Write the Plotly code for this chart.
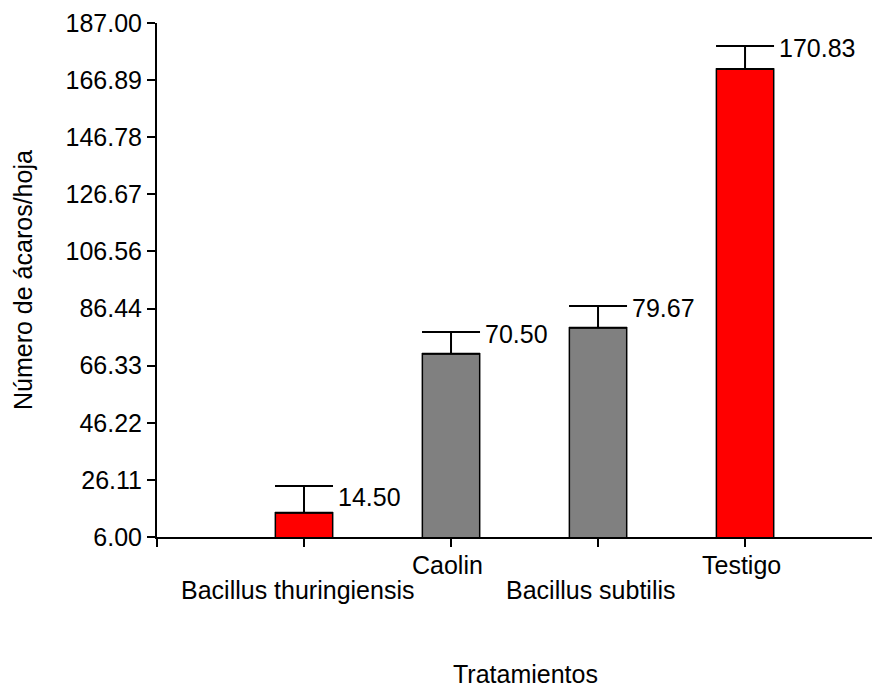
import plotly.graph_objects as go

categories = ["Bacillus thuringiensis", "Caolin", "Bacillus subtilis", "Testigo"]
means = [14.50, 70.50, 79.67, 170.83]
errors = [9.5, 7.7, 7.7, 8.1]
bar_colors = ["#FF0000", "#808080", "#808080", "#FF0000"]
ytick_vals = [6.00, 26.11, 46.22, 66.33, 86.44, 106.56, 126.67, 146.78, 166.89, 187.00]
ytick_text = ["6.00", "26.11", "46.22", "66.33", "86.44", "106.56", "126.67", "146.78", "166.89", "187.00"]

FONT = "Liberation Sans, Arial, sans-serif"
FS = 25

xpos = list(range(len(categories)))

fig = go.Figure()
fig.add_trace(go.Bar(
    x=xpos, y=means, width=0.39,
    marker=dict(color=bar_colors, line=dict(color="black", width=1.5)),
    error_y=dict(type="data", array=errors, arrayminus=[0]*len(errors), symmetric=False,
                 color="black", thickness=2, width=29),
    hoverinfo="skip", showlegend=False,
))

annotations = []
# value labels
for i, (m, e) in enumerate(zip(means, errors)):
    annotations.append(dict(
        x=xpos[i] + 0.195, y=m + e, xref="x", yref="y", text=f"{m:.2f}",
        showarrow=False, xanchor="left", yanchor="middle", xshift=3,
        yshift=(-11 if i == 0 else -2), font=dict(family=FONT, size=FS, color="black")))
# category labels, staggered
for i, c in enumerate(categories):
    annotations.append(dict(
        x=xpos[i], y=0, xref="x", yref="paper", text=c, showarrow=False,
        xanchor="center", yanchor="middle", yshift=(-53 if i % 2 == 0 else -28),
        xshift=(-7 if i % 2 == 0 else -4),
        font=dict(family=FONT, size=FS, color="black")))
annotations.append(dict(
    x=0.5, y=0, xref="paper", yref="paper", text="Tratamientos", showarrow=False,
    xanchor="center", yanchor="middle", yshift=-137, xshift=7,
    font=dict(family=FONT, size=FS, color="black")))
annotations.append(dict(
    x=0, y=0.5, xref="paper", yref="paper", text="Número de ácaros/hoja", showarrow=False,
    xanchor="center", yanchor="middle", xshift=-134, textangle=-90,
    font=dict(family=FONT, size=FS, color="black")))

# page body has an 8px margin; compensate so the plot sits where the reference has it
fig.update_layout(
    width=872, height=682,
    margin=dict(l=149, r=0, t=15, b=153, autoexpand=False),
    paper_bgcolor="white", plot_bgcolor="white",
    font=dict(family=FONT, size=FS, color="black"),
    annotations=annotations,
    xaxis=dict(range=[-1, 3.918], tickvals=[-1] + xpos, ticktext=[""] * (len(xpos) + 1),
               showline=True, linecolor="black", linewidth=2, ticks="outside",
               ticklen=8, tickwidth=2, tickcolor="black", showgrid=False, zeroline=False,
               automargin=False),
    yaxis=dict(range=[6, 187], tickvals=ytick_vals, ticktext=ytick_text,
               showline=True, linecolor="black", linewidth=2, ticks="outside",
               ticklen=8, tickwidth=1.5, tickcolor="black", showgrid=False, zeroline=False,
               tickfont=dict(family=FONT, size=FS, color="black"), automargin=False),
)

fig.write_html("out.html")
